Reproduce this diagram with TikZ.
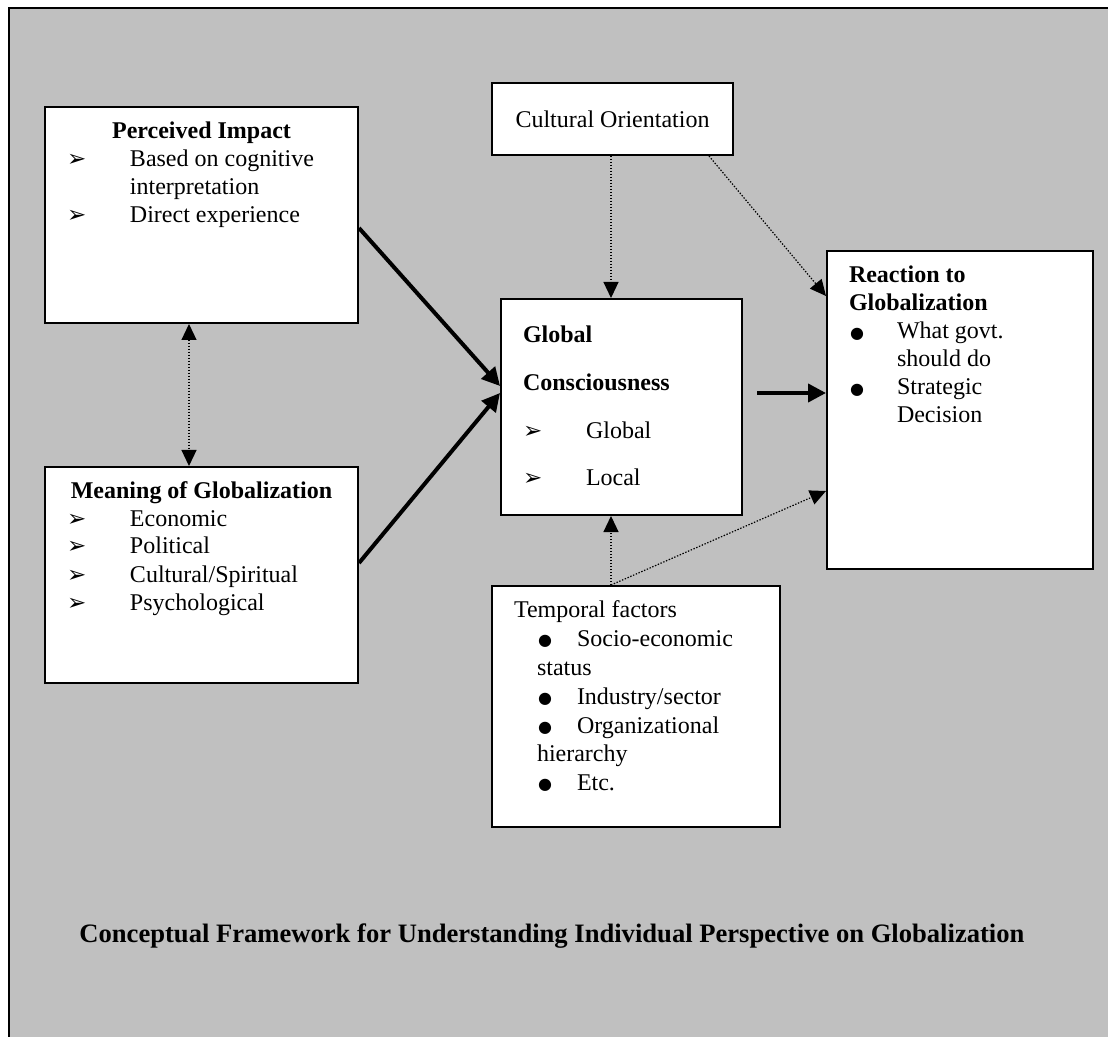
\documentclass[tikz,border=0pt]{standalone}
\usepackage{fontspec}
\setmainfont{Liberation Serif}
\newfontfamily\dingfont{DejaVu Sans}
\usetikzlibrary{arrows.meta,calc}
\definecolor{panelgray}{HTML}{C0C0C0}
\newcommand{\arrowmark}{{\dingfont\fontsize{11.5}{11.5}\selectfont ➢}}
\newcommand{\dotmark}{\raisebox{0.4pt}{\dingfont\fontsize{8}{8}\selectfont ●}}
\newcommand{\itemrow}[4]{\hspace*{#1}\makebox[#2][l]{\strut#3}#4\par}
\newcommand{\panelbox}[4]{\parbox[t][#2][t]{#1}{\vspace*{#3}#4}}
\tikzset{
  panel/.style={draw, fill=white, line width=1pt, inner sep=0pt, anchor=north west,
    font=\fontsize{12}{14}\selectfont},
  mainflow/.style={line width=2pt, -{Triangle[length=9pt,width=9pt]}},
  dotflow/.style={line width=0.6pt, dash pattern=on 0.7pt off 0.8pt},
  >={Triangle[length=8pt,width=7.5pt]}
}
\begin{document}
\begin{tikzpicture}[x=0.5pt, y=-0.5pt]
  \useasboundingbox (0,0) rectangle (1108,1037);
  \fill[panelgray] (9,8) rectangle (1108,1037);
  \draw[line width=1pt] (9,1037) -- (9,8.5) -- (1108,8.5);
  % boxes
  \node[panel] (impact) at (44,106) {\panelbox{156.5pt}{108pt}{6.2pt}{%
    {\centering\bfseries\strut Perceived Impact\par}
    \itemrow{11pt}{31.5pt}{\arrowmark}{Based on cognitive}
    \hspace*{42.5pt}\strut interpretation\par
    \itemrow{11pt}{31.5pt}{\arrowmark}{Direct experience}}};
  \node[panel] (meaning) at (44,466) {\panelbox{156.5pt}{108pt}{5.7pt}{%
    {\centering\bfseries\strut Meaning of Globalization\par}
    \itemrow{11pt}{31.5pt}{\arrowmark}{Economic}
    \itemrow{11pt}{31.5pt}{\arrowmark}{Political}
    \itemrow{11pt}{31.5pt}{\arrowmark}{Cultural/Spiritual}
    \itemrow{11pt}{31.5pt}{\arrowmark}{Psychological}}};
  \node[panel, minimum width=120.5pt, minimum height=36pt] (culture) at (491,82)
    {Cultural Orientation};
  \node[panel] (gc) at (500,298) {\panelbox{120.5pt}{108pt}{5.3pt}{%
    \fontsize{12}{23.8}\selectfont
    \hspace*{11pt}\textbf{\strut Global}\par
    \hspace*{11pt}\textbf{\strut Consciousness}\par
    \itemrow{11pt}{31.5pt}{\arrowmark}{Global}
    \itemrow{11pt}{31.5pt}{\arrowmark}{Local}}};
  \node[panel] (react) at (826,250) {\panelbox{133pt}{159pt}{6.2pt}{%
    \hspace*{11pt}\textbf{\strut Reaction to}\par
    \hspace*{11pt}\textbf{\strut Globalization}\par
    \itemrow{11.5pt}{23.5pt}{\dotmark}{What govt.}
    \hspace*{35pt}\strut should do\par
    \itemrow{11.5pt}{23.5pt}{\dotmark}{Strategic}
    \hspace*{35pt}\strut Decision\par}};
  \node[panel] (temporal) at (491,585) {\panelbox{144pt}{120.5pt}{5.9pt}{%
    \fontsize{12}{14.4}\selectfont
    \hspace*{11pt}\strut Temporal factors\par
    \itemrow{23pt}{19.5pt}{\dotmark}{Socio-economic}
    \hspace*{22.5pt}\strut status\par
    \itemrow{23pt}{19.5pt}{\dotmark}{Industry/sector}
    \itemrow{23pt}{19.5pt}{\dotmark}{Organizational}
    \hspace*{22.5pt}\strut hierarchy\par
    \itemrow{23pt}{19.5pt}{\dotmark}{Etc.}}};
  \node[anchor=base west, inner sep=0pt, font=\fontsize{13.3}{15}\selectfont\bfseries]
    (caption) at (79,942)
    {Conceptual Framework for Understanding Individual Perspective on Globalization};
  % connectors
  \coordinate (tf) at ($(temporal.north west)+(120,0)$);
  \draw[mainflow] ($(impact.east)+(0,13)$) -- ($(gc.west)+(0,-21)$);
  \draw[mainflow] ($(meaning.east)+(0,-12)$) -- ($(gc.west)+(0,-14)$);
  \draw[mainflow] ($(gc.east)+(14,-14)$) -- ($(react.west)+(0,-17)$);
  \draw[dotflow, <->] ($(impact.south west)+(145,0)$) -- ($(meaning.north west)+(145,0)$);
  \draw[dotflow, ->] ($(culture.south west)+(120,0)$) -- ($(gc.north west)+(111,0)$);
  \draw[dotflow, ->] ($(culture.south east)+(-25,0)$) -- ($(react.north west)+(0,46)$);
  \draw[dotflow, ->] (tf) -- ($(gc.south west)+(111,0)$);
  \draw[dotflow, ->] (tf) -- ($(react.north west)+(0,241)$);
\end{tikzpicture}
\end{document}
